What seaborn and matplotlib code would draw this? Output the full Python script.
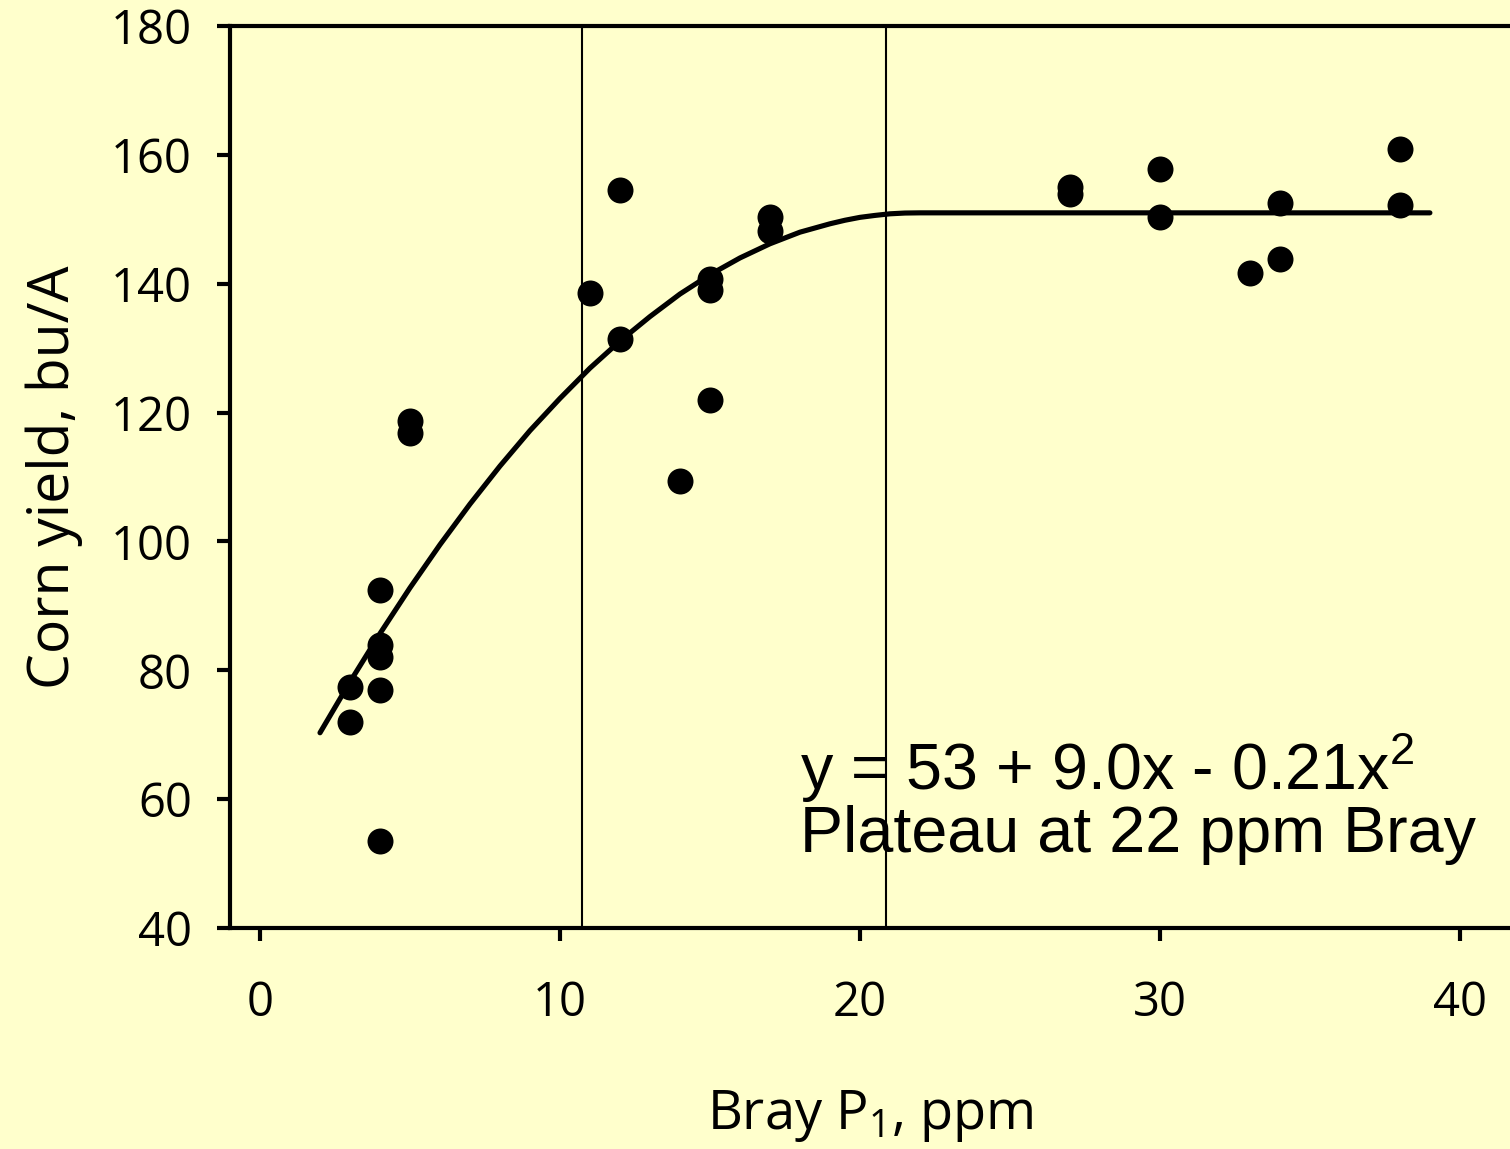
import matplotlib
matplotlib.use("Agg")
import matplotlib.pyplot as plt
import seaborn as sns
import pandas as pd

# ---- data ----
bray_p = [3, 3, 4, 4, 4, 4, 4, 5, 5, 11, 12, 12, 14, 15, 15, 15, 17, 17,
          27, 27, 30, 30, 33, 34, 34, 38, 38]
corn_yield = [77.4, 71.9, 92.4, 84.0, 82.0, 76.9, 53.5, 118.7, 116.8, 138.6,
              154.6, 131.4, 109.4, 140.8, 139.0, 121.9, 150.4, 148.2,
              155.0, 153.9, 157.8, 150.3, 141.6, 152.6, 143.9, 160.9, 152.2]

curve_x = [2, 3, 4, 5, 6, 7, 8, 9, 10, 11, 12, 13, 14, 15, 16, 17, 18, 19,
           19.5, 20, 20.5, 21, 21.5, 22, 39]
curve_y = [70.3, 78.2, 85.7, 92.8, 99.5, 105.8, 111.7, 117.2, 122.2, 126.9,
           131.1, 134.9, 138.4, 141.4, 144.0, 146.2, 148.0, 149.3,
           149.85, 150.3, 150.6, 150.85, 150.97, 151.0, 151.0]

critical_levels = [10.73, 20.87]

x_ticks = [0, 10, 20, 30, 40]
y_ticks = [40, 60, 80, 100, 120, 140, 160, 180]

eq_line1 = "y = 53 + 9.0x - 0.21x$^{\\mathsf{2}}$"
eq_line2 = "Plateau at 22 ppm Bray"
x_label = "Bray P$_{\\mathrm{1}}$, ppm"
y_label = "Corn yield, bu/A"

bg = "#FFFFCC"

sns.set_theme(style="ticks")
plt.rcParams["font.family"] = ["Open Sans", "DejaVu Sans"]
plt.rcParams["mathtext.fontset"] = "custom"
plt.rcParams["mathtext.rm"] = "Open Sans"
plt.rcParams["mathtext.sf"] = "Liberation Sans"

fig = plt.figure(figsize=(15.1, 11.49), dpi=100, facecolor=bg)
ax = fig.add_axes([230 / 1510, 1 - 928 / 1149, 1 - 230 / 1510, (928 - 26) / 1149])
ax.set_facecolor(bg)

points = pd.DataFrame({"bray": bray_p, "yield": corn_yield})
curve = pd.DataFrame({"bray": curve_x, "yield": curve_y})

for xv in critical_levels:
    ax.axvline(xv, color="black", lw=1.5, zorder=1)

sns.lineplot(data=curve, x="bray", y="yield", estimator=None, sort=False,
             color="black", lw=3.7, ax=ax, zorder=2)
sns.scatterplot(data=points, x="bray", y="yield", color="black", s=350,
                linewidth=0, ax=ax, zorder=3)

ax.set_xlim(-1, 41.67)
ax.set_ylim(40, 180)
ax.set_xticks(x_ticks)
ax.set_yticks(y_ticks)

for side in ["left", "bottom", "top"]:
    ax.spines[side].set_linewidth(3)
    ax.spines[side].set_color("black")
ax.spines["right"].set_visible(False)

ax.tick_params(axis="y", length=9.5, width=3, pad=18, labelsize=34, colors="black")
ax.tick_params(axis="x", length=9, width=3, pad=28, labelsize=34, colors="black")

ax.set_xlabel(x_label, fontsize=39, labelpad=44, color="black")
ax.set_ylabel(y_label, fontsize=41, labelpad=20, color="black")

ax.text(18.0, 61.4, eq_line1, fontsize=46.5, family="Liberation Sans",
        ha="left", va="baseline", color="black")
ax.text(18.0, 51.8, eq_line2, fontsize=46.5, family="Liberation Sans",
        ha="left", va="baseline", color="black")

fig.savefig("out.png", dpi=100, facecolor=bg)
